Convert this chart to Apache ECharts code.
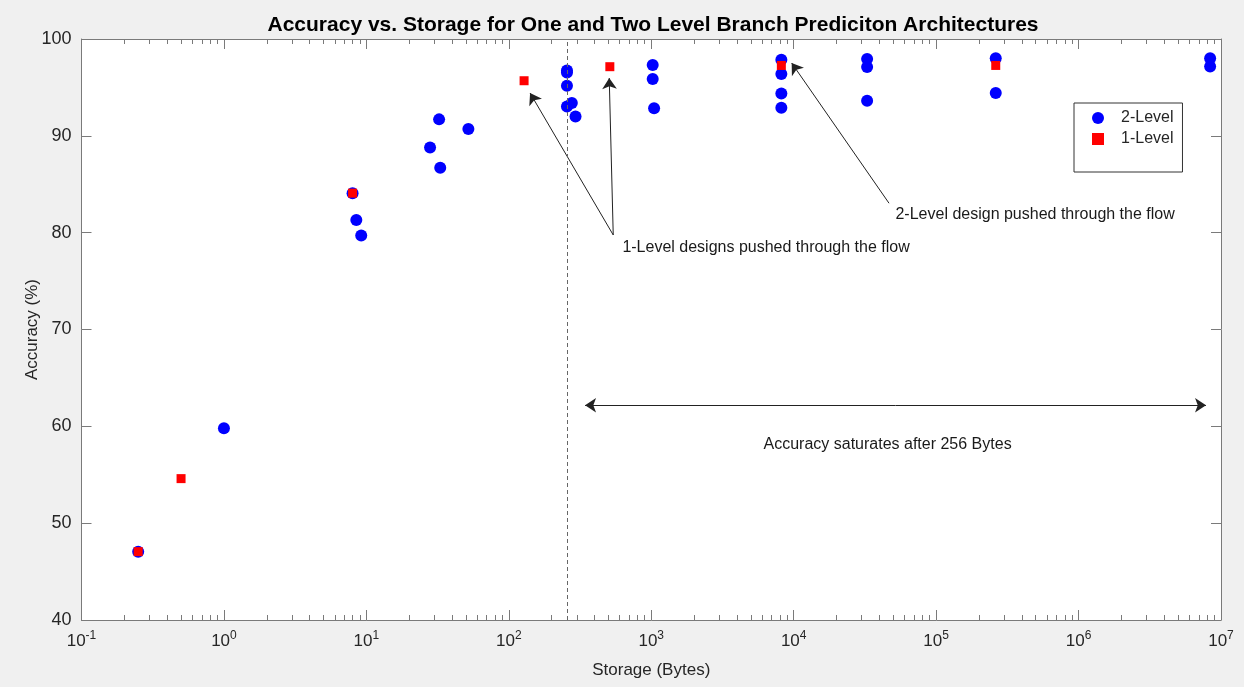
<!DOCTYPE html>
<html>
<head>
<meta charset="utf-8">
<script src="https://cdn.jsdelivr.net/npm/echarts@6/dist/echarts.min.js"></script>
<style>
html,body{margin:0;padding:0;background:#f0f0f0;}
#chart{width:1244px;height:687px;}
</style>
</head>
<body>
<div id="chart"></div>
<script>
// ---- data (Storage in Bytes, Accuracy in %) ----
const twoLevelStorage  = [0.25, 1, 8, 8.5, 9.2, 28, 32.4, 33, 52, 256, 256, 256, 277, 256, 294, 1024, 1024, 1047, 8192, 8192, 8192, 8192, 32768, 32768, 32768, 262144, 262144, 8388608, 8388608];
const twoLevelAccuracy = [47.06, 59.8, 84.08, 81.3, 79.7, 88.8, 91.7, 86.7, 90.7, 96.75, 96.55, 95.17, 93.38, 93.03, 92.0, 97.31, 95.86, 92.86, 97.86, 96.38, 94.37, 92.9, 97.93, 97.1, 93.62, 98.0, 94.42, 98.0, 97.17];
const oneLevelStorage  = [0.25, 0.5, 8, 128, 512, 8192, 262144];
const oneLevelAccuracy = [47.06, 54.6, 84.08, 95.69, 97.14, 97.27, 97.27];

const xMajorTicks = [0.1, 1, 10, 100, 1000, 10000, 100000, 1000000, 10000000];
const yTicks = [40, 50, 60, 70, 80, 90, 100];
const saturationStorage = 256;

// annotation arrows: [fromStorage, fromAcc, toStorage, toAcc]
const arrows1 = [
  [541, 79.76, 141, 94.42],
  [541, 79.76, 507, 95.97],
  [46700, 83.04, 9680, 97.52]
];
const doubleArrow = [343, 62.18, 7850000, 62.18];
const annotations = [
  [622, 78.42, '1-Level designs pushed through the flow'],
  [51400, 81.83, '2-Level design pushed through the flow'],
  [6090, 58.15, 'Accuracy saturates after 256 Bytes']
];

// minor log ticks (2..9 in each decade)
const xMinorTicks = [];
for (let i = 0; i < xMajorTicks.length - 1; i++) {
  for (let k = 2; k <= 9; k++) xMinorTicks.push(xMajorTicks[i] * k);
}

const FONT = "'Liberation Sans', Arial, Helvetica, sans-serif";
const AXC = '#7a7a7a';
const TXT = '#262626';

function zip(a, b) { return a.map((v, i) => [v, b[i]]); }

const baseX = {
  type: 'log', logBase: 10, min: 0.1, max: 10000000,
  splitLine: { show: false }, minorTick: { show: false }
};

const chart = echarts.init(document.getElementById('chart'));
chart.setOption({
  backgroundColor: '#f0f0f0',
  animation: false,
  title: {
    text: 'Accuracy vs. Storage for One and Two Level Branch Prediciton Architectures',
    left: 648, top: 10, textAlign: 'center',
    textStyle: { fontFamily: FONT, fontSize: 21, fontWeight: 'bold', color: '#000' }
  },
  grid: {
    left: 81.5, right: 23, top: 39, bottom: 67,
    show: true, backgroundColor: '#ffffff', borderWidth: 0
  },
  legend: {
    orient: 'vertical', left: 1074, top: 103,
    padding: [7, 9, 25, 18], itemGap: 5,
    itemWidth: 12, itemHeight: 12,
    backgroundColor: '#ffffff', borderColor: '#333', borderWidth: 1, borderRadius: 0,
    textStyle: { fontFamily: FONT, fontSize: 16, color: TXT, padding: [0, 0, 0, 12] },
    data: [{ name: '2-Level', icon: 'circle' }, { name: '1-Level', icon: 'rect' }]
  },
  xAxis: [
    Object.assign({}, baseX, {
      position: 'bottom',
      name: 'Storage (Bytes)', nameLocation: 'middle', nameGap: 42,
      nameTextStyle: { fontFamily: FONT, fontSize: 17, color: TXT },
      axisLine: { show: true, lineStyle: { color: AXC, width: 1 } },
      axisTick: { show: true, inside: true, length: 10, lineStyle: { color: AXC }, customValues: xMajorTicks },
      axisLabel: {
        show: true, customValues: xMajorTicks, margin: 10, color: TXT, fontFamily: FONT, fontSize: 17,
        formatter: function (v) {
          const e = Math.round(Math.log10(v));
          return '{b|10}{s|' + e + '}';
        },
        rich: {
          b: { fontFamily: FONT, fontSize: 17, color: TXT },
          s: { fontFamily: FONT, fontSize: 12, color: TXT, padding: [0, 0, 10, 0] }
        }
      }
    }),
    Object.assign({}, baseX, {
      position: 'bottom',
      axisLine: { show: false },
      axisTick: { show: true, inside: true, length: 5, lineStyle: { color: AXC }, customValues: xMinorTicks },
      axisLabel: { show: false }
    }),
    Object.assign({}, baseX, {
      position: 'top',
      axisLine: { show: true, lineStyle: { color: AXC, width: 1 } },
      axisTick: { show: true, inside: true, length: 10, lineStyle: { color: AXC }, customValues: xMajorTicks },
      axisLabel: { show: false }
    }),
    Object.assign({}, baseX, {
      position: 'top',
      axisLine: { show: false },
      axisTick: { show: true, inside: true, length: 5, lineStyle: { color: AXC }, customValues: xMinorTicks },
      axisLabel: { show: false }
    })
  ],
  yAxis: [
    {
      type: 'value', position: 'left', min: 40, max: 100, interval: 10,
      name: 'Accuracy (%)', nameLocation: 'middle', nameGap: 41, nameMoveOverlap: false,
      nameTextStyle: { fontFamily: FONT, fontSize: 17, color: TXT },
      splitLine: { show: false },
      axisLine: { show: true, lineStyle: { color: AXC, width: 1 } },
      axisTick: { show: true, inside: true, length: 10, lineStyle: { color: AXC }, customValues: yTicks },
      axisLabel: { show: true, customValues: yTicks, margin: 10, color: TXT, fontFamily: FONT, fontSize: 18 }
    },
    {
      type: 'value', position: 'right', min: 40, max: 100, interval: 10,
      splitLine: { show: false },
      axisLine: { show: true, lineStyle: { color: AXC, width: 1 } },
      axisTick: { show: true, inside: true, length: 10, lineStyle: { color: AXC }, customValues: yTicks },
      axisLabel: { show: false }
    }
  ],
  series: [
    {
      name: '2-Level', type: 'scatter', xAxisIndex: 0, yAxisIndex: 0,
      symbol: 'circle', symbolSize: 12,
      itemStyle: { color: '#0000ff', opacity: 1 },
      data: zip(twoLevelStorage, twoLevelAccuracy),
      z: 3
    },
    {
      name: '1-Level', type: 'scatter', xAxisIndex: 0, yAxisIndex: 0,
      symbol: 'rect', symbolSize: 9,
      itemStyle: { color: '#ff0000', opacity: 1 },
      data: zip(oneLevelStorage, oneLevelAccuracy),
      z: 4
    },
    {
      name: 'annot', type: 'scatter', xAxisIndex: 0, yAxisIndex: 0,
      symbolSize: 1, silent: true, z: 5,
      itemStyle: { opacity: 0 },
      data: annotations.map(a => ({ value: [a[0], a[1]], text: a[2] })),
      label: {
        show: true, position: 'right', distance: 0, opacity: 1,
        fontFamily: FONT, fontSize: 16, color: '#1a1a1a',
        formatter: p => p.data.text
      }
    },
    {
      name: 'arrows', type: 'line', xAxisIndex: 0, yAxisIndex: 0,
      data: [], silent: true, z: 2,
      markLine: {
        silent: true, animation: false,
        symbol: ['none', 'arrow'], symbolSize: 11,
        label: { show: false },
        lineStyle: { color: '#222', width: 1, type: 'solid' },
        emphasis: { disabled: true },
        data: arrows1.map(a => [{ coord: [a[0], a[1]] }, { coord: [a[2], a[3]] }]).concat([
          [{ coord: [doubleArrow[0], doubleArrow[1]], symbol: 'arrow' }, { coord: [doubleArrow[2], doubleArrow[3]], symbol: 'arrow' }]
        ])
      }
    },
    {
      name: 'saturation', type: 'line', xAxisIndex: 0, yAxisIndex: 0,
      data: [], silent: true, z: 1,
      markLine: {
        silent: true, animation: false,
        symbol: ['none', 'none'],
        label: { show: false },
        lineStyle: { color: '#666', width: 1, type: [4, 3] },
        emphasis: { disabled: true },
        data: [[{ coord: [saturationStorage, 40] }, { coord: [saturationStorage, 100] }]]
      }
    }
  ]
});
</script>
</body>
</html>
